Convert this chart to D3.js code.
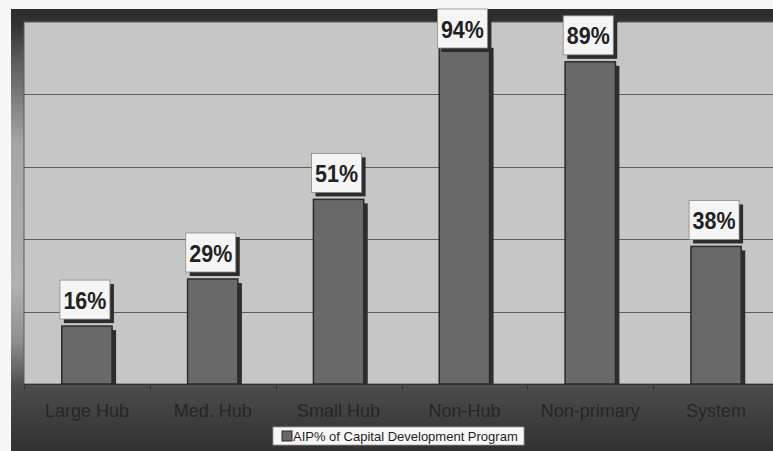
<!DOCTYPE html>
<html>
<head>
<meta charset="utf-8">
<script src="https://cdn.jsdelivr.net/npm/d3@7"></script>
<style>
  html, body { margin: 0; padding: 0; background: #f7f7f7; }
  svg { display: block; font-family: "Liberation Sans", Arial, sans-serif; }
</style>
</head>
<body>
<svg id="chart" width="773" height="451"></svg>
<script>
// Airport categories and AIP share of each capital development program (%)
const categories = ["Large Hub", "Med. Hub", "Small Hub", "Non-Hub", "Non-primary", "System"];
const aipShare = [16, 29, 51, 94, 89, 38];
const yTicks = [0, 20, 40, 60, 80, 100];
const seriesName = "AIP% of Capital Development Program";

const svg = d3.select("#chart");
const defs = svg.append("defs");

// Chart frame: dark band on top, lighter middle, dark bottom
const grad = defs.append("linearGradient")
  .attr("id", "frameFill").attr("x1", 0).attr("y1", 0).attr("x2", 0).attr("y2", 1);
[[0, "#2c2c2c"], [0.04, "#353535"], [0.12, "#5e5e5e"], [0.30, "#a6a6a6"], [0.62, "#b0b0b0"],
 [0.74, "#8e8e8e"], [0.84, "#4c4c4c"], [1, "#2e2e2e"]]
  .forEach(([o, c]) => grad.append("stop").attr("offset", o).attr("stop-color", c));

const frame = { x: 11, y: 9, w: 790, h: 450 };
const plot = { left: 24, top: 22, right: 779, bottom: 384 };

svg.append("rect")
  .attr("x", frame.x).attr("y", frame.y).attr("width", frame.w).attr("height", frame.h)
  .attr("fill", "url(#frameFill)");

// Plot area
svg.append("rect")
  .attr("x", plot.left).attr("y", plot.top)
  .attr("width", plot.right - plot.left + 20).attr("height", plot.bottom - plot.top)
  .attr("fill", "#c6c6c6").attr("stroke", "#5a5a5a").attr("stroke-width", 1);

const x = d3.scaleBand()
  .domain(categories)
  .range([plot.left, plot.right])
  .paddingInner(0.6)
  .paddingOuter(0.3);

const y = d3.scaleLinear().domain([0, 100]).range([plot.bottom, plot.top]);

// Horizontal gridlines
svg.append("g").selectAll("line")
  .data(yTicks.filter(t => t > 0 && t < 100))
  .join("line")
  .attr("x1", plot.left).attr("x2", plot.right + 20)
  .attr("y1", d => Math.round(y(d)) + 0.5).attr("y2", d => Math.round(y(d)) + 0.5)
  .attr("stroke", "#5e5e5e").attr("stroke-width", 1);

const data = categories.map((c, i) => ({ cat: c, v: aipShare[i] }));

// Bar shadows
svg.append("g").selectAll("rect")
  .data(data)
  .join("rect")
  .attr("x", d => x(d.cat) + 4)
  .attr("y", d => y(d.v) + 4)
  .attr("width", x.bandwidth())
  .attr("height", d => plot.bottom - y(d.v) - 4)
  .attr("fill", "#2e2e2e");

// Bars
svg.append("g").selectAll("rect")
  .data(data)
  .join("rect")
  .attr("x", d => x(d.cat))
  .attr("y", d => y(d.v))
  .attr("width", x.bandwidth())
  .attr("height", d => plot.bottom - y(d.v))
  .attr("fill", "#696969")
  .attr("stroke", "#2a2a2a").attr("stroke-width", 1.5);

// Category axis line and tick marks between categories
svg.append("line")
  .attr("x1", plot.left).attr("x2", plot.right + 20)
  .attr("y1", plot.bottom + 0.5).attr("y2", plot.bottom + 0.5)
  .attr("stroke", "#333").attr("stroke-width", 1.2);

const step = x.step();
const boundaries = categories.map(c => x(c) - step * x.paddingInner() / 2);
boundaries.push(x(categories[categories.length - 1]) + x.bandwidth() + step * x.paddingInner() / 2);
svg.append("g").selectAll("line")
  .data(boundaries)
  .join("line")
  .attr("x1", d => Math.round(d) + 0.5).attr("x2", d => Math.round(d) + 0.5)
  .attr("y1", plot.bottom).attr("y2", plot.bottom + 6)
  .attr("stroke", "#333").attr("stroke-width", 1);

// Category labels
svg.append("g").selectAll("text")
  .data(categories)
  .join("text")
  .attr("x", d => x(d) + x.bandwidth() / 2)
  .attr("y", 417)
  .attr("text-anchor", "middle")
  .attr("font-size", "18px")
  .attr("fill", "#262626")
  .text(d => d);

// Value labels in boxes above bars
const boxW = 50, boxH = 39;
const labelTop = d => Math.max(frame.y, y(d.v) - 7 - boxH);
const labels = svg.append("g").selectAll("g")
  .data(data)
  .join("g")
  .attr("transform", d => `translate(${x(d.cat) + x.bandwidth() / 2 - 2 - boxW / 2},${labelTop(d)})`);

labels.append("rect")
  .attr("x", 4).attr("y", 4).attr("width", boxW).attr("height", boxH)
  .attr("fill", "#2c2c2c");
labels.append("rect")
  .attr("width", boxW).attr("height", boxH)
  .attr("fill", "#f5f5f5").attr("stroke", "#8a8a8a").attr("stroke-width", 0.8);
labels.append("text")
  .attr("x", boxW / 2).attr("y", 28.5)
  .attr("text-anchor", "middle")
  .attr("font-size", "24px").attr("font-weight", "bold")
  .attr("textLength", 43).attr("lengthAdjust", "spacingAndGlyphs")
  .attr("fill", "#222")
  .text(d => d.v + "%");

// Legend
const legend = svg.append("g").attr("transform", "translate(273,427)");
legend.append("rect")
  .attr("width", 251).attr("height", 18)
  .attr("fill", "#f7f7f7").attr("stroke", "#999").attr("stroke-width", 0.8);
legend.append("rect")
  .attr("x", 9).attr("y", 4).attr("width", 10).attr("height", 10)
  .attr("fill", "#696969").attr("stroke", "#2a2a2a").attr("stroke-width", 1);
legend.append("text")
  .attr("x", 20).attr("y", 13.5)
  .attr("font-size", "13px").attr("fill", "#1e1e1e")
  .text(seriesName);
</script>
</body>
</html>
